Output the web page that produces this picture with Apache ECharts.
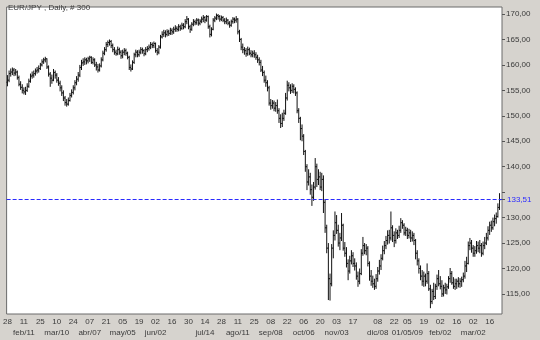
<!DOCTYPE html>
<html>
<head>
<meta charset="utf-8">
<script src="https://cdn.jsdelivr.net/npm/echarts@6/dist/echarts.min.js"></script>
<style>
html,body{margin:0;padding:0;background:#d6d3ce;}
#c{width:540px;height:340px;}
</style>
</head>
<body>
<div id="c"></div>
<script>
// ---- data ----
const startDate = '2008-01-28';
const holidays = ['2008-12-25', '2009-01-01'];
const categoryCount = 301;

const tickDates = ['2008-01-28','2008-02-11','2008-02-25','2008-03-10','2008-03-24','2008-04-07','2008-04-21','2008-05-05','2008-05-19','2008-06-02','2008-06-16','2008-06-30','2008-07-14','2008-07-28','2008-08-11','2008-08-25','2008-09-08','2008-09-22','2008-10-06','2008-10-20','2008-11-03','2008-11-17','2008-12-08','2008-12-22','2009-01-05','2009-01-19','2009-02-02','2009-02-16','2009-03-02','2009-03-16'];
const tickDays = ['28','11','25','10','24','07','21','05','19','02','16','30','14','28','11','25','08','22','06','20','03','17','08','22','05','19','02','16','02','16'];
const tickMonths = ['','feb/11','','mar/10','','abr/07','','may/05','','jun/02','','','jul/14','','ago/11','','sep/08','','oct/06','','nov/03','','dic/08','','01/05/09','','feb/02','','mar/02',''];

const yTicks = [115,120,125,130,135,140,145,150,155,160,165,170];
const yLabels = [115,120,125,130,140,145,150,155,160,165,170];
const lastPrice = 133.51;

const opens = [
156.6,157.0,158.3,158.6,159.0,158.4,158.6,157.5,156.2,155.6,
155.0,154.7,155.0,155.8,156.8,157.8,158.0,158.3,158.8,159.0,
159.3,160.0,160.6,161.0,161.2,159.6,158.2,157.4,157.0,158.5,
158.0,157.0,156.4,155.5,154.5,153.5,152.6,152.3,153.0,154.0,
154.6,155.5,156.5,157.2,158.0,159.5,160.4,160.6,161.0,160.8,
161.2,161.5,160.5,161.0,160.0,159.6,159.0,159.8,161.0,162.3,
163.0,164.0,164.4,164.6,163.8,163.0,162.5,162.2,163.0,162.5,
161.8,162.5,162.8,162.3,161.5,159.5,159.2,160.5,162.0,162.5,
162.0,162.5,163.0,162.8,162.2,163.0,163.2,163.5,164.0,163.8,
164.2,162.8,162.5,163.5,165.5,166.0,166.3,166.0,166.5,166.2,
166.8,166.5,167.0,167.2,167.0,167.5,167.2,167.8,167.5,168.5,
169.0,167.5,167.0,168.0,168.5,168.3,168.8,168.2,168.6,169.0,
169.3,168.8,169.5,167.5,166.0,167.0,168.8,169.2,169.7,169.5,
169.0,169.3,168.8,168.5,168.8,168.2,167.8,168.5,169.0,168.8,
169.0,166.5,165.0,163.5,163.0,162.8,162.2,163.0,162.3,162.0,
162.3,162.0,161.5,161.0,160.5,159.0,158.5,157.0,156.5,155.5,
152.5,152.0,152.5,151.5,152.0,151.0,149.5,148.5,149.5,150.5,
153.5,156.0,155.5,155.0,155.8,155.2,154.5,151.0,149.5,147.5,
146.0,143.0,140.0,137.0,138.0,135.5,134.0,136.0,140.0,137.5,
138.0,136.0,137.5,133.0,128.0,124.0,118.0,117.0,124.0,126.5,
129.0,127.5,125.0,126.0,128.5,124.0,123.0,121.0,119.5,121.5,
122.5,121.0,120.5,118.5,117.5,119.0,123.0,124.5,123.5,124.0,
121.0,118.5,117.5,117.0,116.5,118.0,119.5,120.5,122.0,123.5,
124.5,125.5,126.5,126.0,128.0,126.5,125.5,127.0,126.5,127.5,
129.0,128.5,127.0,127.5,126.5,127.0,126.0,126.5,125.5,123.0,
121.5,120.0,118.5,117.5,118.5,117.5,119.0,116.0,113.5,115.5,
114.5,116.5,118.0,117.0,116.5,115.0,116.2,115.8,116.4,118.0,
119.0,117.2,116.5,117.0,117.5,117.0,117.5,117.8,118.5,120.5,
121.0,124.5,125.0,124.0,123.0,123.5,124.5,124.0,124.5,123.0,
124.5,125.0,126.0,127.5,128.5,128.0,129.2,129.8,130.2,132.0
];
const highs = [
158.0,158.9,159.3,159.5,159.4,159.2,158.9,157.9,156.8,156.2,
155.6,155.7,156.4,157.3,158.3,158.7,158.9,159.3,159.6,159.9,
160.4,161.1,161.4,161.6,161.3,159.9,158.6,158.1,159.2,158.9,
158.4,157.6,156.9,156.0,155.0,153.9,153.3,153.6,154.5,155.2,
156.0,157.0,157.8,158.6,160.0,161.0,161.3,161.5,161.4,161.6,
161.8,161.7,161.5,161.3,160.6,160.2,160.3,161.5,162.8,163.5,
164.5,164.8,165.0,164.9,164.2,163.5,163.0,163.6,163.4,162.9,
163.0,163.3,163.2,162.6,161.8,160.1,160.9,162.4,163.0,162.9,
163.0,163.5,163.4,163.1,163.5,163.7,164.0,164.5,164.4,164.6,
164.4,163.3,163.9,165.9,166.6,166.9,166.8,167.0,166.9,167.3,
167.2,167.5,167.8,167.6,168.0,167.9,168.3,168.2,169.0,169.6,
169.2,167.9,168.4,169.0,168.9,169.2,169.1,169.0,169.5,169.8,
169.6,169.8,169.7,167.9,167.4,169.2,169.6,170.1,170.0,169.8,
169.7,169.6,169.2,169.3,169.0,168.6,168.9,169.4,169.3,169.6,
169.2,166.9,165.3,164.2,163.5,163.3,163.6,163.4,162.9,162.8,
162.9,162.5,162.0,161.5,161.0,159.8,158.9,157.9,157.0,155.9,
153.3,153.1,153.0,152.7,153.2,151.5,150.3,150.6,151.2,154.5,
156.9,156.6,156.2,156.4,156.2,155.6,154.8,151.5,149.8,148.3,
146.4,143.3,140.5,139.5,138.8,136.5,137.0,141.7,140.6,139.5,
139.0,138.8,138.3,133.6,128.6,125.0,119.0,124.8,127.5,131.2,
130.5,128.6,127.0,130.9,128.8,125.2,124.2,121.8,122.5,123.6,
123.2,122.0,121.2,119.4,120.0,123.8,126.2,125.0,124.8,124.4,
121.4,119.7,118.6,118.0,118.9,120.3,121.7,122.8,124.5,125.4,
126.4,127.5,127.6,131.2,128.5,127.3,127.9,127.6,128.4,129.9,
129.5,128.9,128.2,128.0,127.8,127.6,127.3,127.0,125.8,123.6,
122.0,120.6,119.7,119.4,119.0,121.0,119.5,116.8,116.0,117.2,
117.0,118.8,119.7,118.5,117.7,116.8,117.2,117.0,118.5,120.1,
119.5,118.3,118.0,118.0,118.3,118.1,118.4,119.2,121.5,122.3,
125.3,126.0,125.6,124.6,124.4,125.4,125.3,125.6,125.0,125.3,
126.2,127.0,128.3,129.2,129.4,130.0,130.6,131.0,132.8,134.8
];
const lows = [
155.8,156.6,157.7,158.0,157.8,157.9,157.1,155.8,155.1,154.4,
154.2,154.1,154.7,155.5,156.5,157.3,157.5,157.9,158.3,158.5,
159.0,159.7,160.2,160.5,159.2,157.7,155.7,156.3,156.8,157.3,
156.5,155.9,154.8,153.9,152.9,152.0,151.8,152.0,152.8,153.6,
154.2,155.0,156.0,156.7,157.6,159.0,159.8,160.0,160.1,160.3,
160.6,160.2,160.1,159.6,158.9,158.5,158.7,159.5,160.7,161.9,
162.6,163.5,163.8,163.3,162.5,162.0,161.8,161.9,162.0,161.2,
161.3,161.9,161.8,161.1,159.0,158.7,159.0,160.2,161.5,161.5,
161.6,162.1,162.2,161.7,161.9,162.5,162.8,163.1,163.3,163.3,
162.4,161.9,162.1,163.2,165.2,165.5,165.4,165.6,165.7,165.9,
165.9,166.1,166.5,166.5,166.6,166.7,166.9,167.0,167.2,168.0,
167.0,166.3,166.7,167.6,167.8,167.9,167.7,167.8,168.2,168.4,
168.2,168.5,167.1,165.4,165.6,166.8,168.4,168.8,168.9,168.5,
168.6,168.4,168.0,168.0,167.8,167.3,167.5,168.1,168.2,168.3,
166.0,164.5,162.9,162.3,162.0,161.6,161.8,161.9,161.5,161.5,
161.4,161.0,160.4,159.9,158.6,157.8,156.5,155.7,154.8,152.0,
151.2,151.4,150.9,150.8,150.4,148.6,147.6,147.8,149.0,150.2,
153.0,154.8,154.3,154.5,154.4,153.9,150.5,148.6,145.2,145.0,
142.3,139.0,135.4,136.3,134.5,132.3,133.3,135.5,136.0,136.4,
135.4,135.2,130.9,127.0,123.0,113.8,113.7,116.5,122.0,125.5,
126.8,124.3,123.6,125.4,123.5,122.3,120.2,117.7,119.0,120.8,
120.3,119.6,117.8,116.4,116.9,118.7,122.5,122.8,122.6,120.4,
117.6,116.6,116.2,115.8,116.0,117.4,118.8,119.7,121.6,122.8,
123.8,124.7,124.9,125.5,125.2,124.2,124.9,125.8,126.0,127.0,
127.8,126.5,126.4,125.8,125.9,125.2,125.3,124.6,121.8,120.6,
119.0,117.7,116.6,116.4,116.5,117.0,115.6,112.2,113.0,113.8,
114.0,115.8,116.5,115.9,114.4,114.5,115.0,114.9,116.0,117.2,
116.8,116.0,115.8,116.0,116.3,116.2,116.4,117.3,118.0,119.3,
120.8,123.6,123.1,122.3,122.3,122.9,123.2,123.0,122.3,122.6,
123.8,124.6,125.5,126.6,127.2,127.6,128.3,128.8,130.0,131.5
];
const closes = [
157.0,158.3,158.6,159.0,158.4,158.6,157.5,156.2,155.6,155.0,
154.7,155.0,155.8,156.8,157.8,158.0,158.3,158.8,159.0,159.3,
160.0,160.6,161.0,161.2,159.6,158.2,157.4,157.0,158.5,158.0,
157.0,156.4,155.5,154.5,153.5,152.6,152.3,153.0,154.0,154.6,
155.5,156.5,157.2,158.0,159.5,160.4,160.6,161.0,160.8,161.2,
161.5,160.5,161.0,160.0,159.6,159.0,159.8,161.0,162.3,163.0,
164.0,164.4,164.6,163.8,163.0,162.5,162.2,163.0,162.5,161.8,
162.5,162.8,162.3,161.5,159.5,159.2,160.5,162.0,162.5,162.0,
162.5,163.0,162.8,162.2,163.0,163.2,163.5,164.0,163.8,164.2,
162.8,162.5,163.5,165.5,166.0,166.3,166.0,166.5,166.2,166.8,
166.5,167.0,167.2,167.0,167.5,167.2,167.8,167.5,168.5,169.0,
167.5,167.0,168.0,168.5,168.3,168.8,168.2,168.6,169.0,169.3,
168.8,169.5,167.5,166.0,167.0,168.8,169.2,169.7,169.5,169.0,
169.3,168.8,168.5,168.8,168.2,167.8,168.5,169.0,168.8,169.0,
166.5,165.0,163.5,163.0,162.8,162.2,163.0,162.3,162.0,162.3,
162.0,161.5,161.0,160.5,159.0,158.5,157.0,156.5,155.5,152.5,
152.0,152.5,151.5,152.0,151.0,149.5,148.5,149.5,150.5,153.5,
156.0,155.5,155.0,155.8,155.2,154.5,151.0,149.5,147.5,146.0,
143.0,140.0,137.0,138.0,135.5,134.0,136.0,140.0,137.5,138.0,
136.0,137.5,133.0,128.0,124.0,118.0,117.0,124.0,126.5,129.0,
127.5,125.0,126.0,128.5,124.0,123.0,121.0,119.5,121.5,122.5,
121.0,120.5,118.5,117.5,119.0,123.0,124.5,123.5,124.0,121.0,
118.5,117.5,117.0,116.5,118.0,119.5,120.5,122.0,123.5,124.5,
125.5,126.5,126.0,128.0,126.5,125.5,127.0,126.5,127.5,129.0,
128.5,127.0,127.5,126.5,127.0,126.0,126.5,125.5,123.0,121.5,
120.0,118.5,117.5,118.5,117.5,119.0,116.0,113.5,115.5,114.5,
116.5,118.0,117.0,116.5,115.0,116.2,115.8,116.4,118.0,119.0,
117.2,116.5,117.0,117.5,117.0,117.5,117.8,118.5,120.5,121.0,
124.5,125.0,124.0,123.0,123.5,124.5,124.0,124.5,123.0,124.5,
125.0,126.0,127.5,128.5,128.0,129.2,129.8,130.2,132.0,133.51
];

// ---- build categories (business days) ----
function fmt(d){return d.toISOString().slice(0,10);}
const dates = [];
{
  const d = new Date(startDate + 'T00:00:00Z');
  while (dates.length < categoryCount) {
    const wd = d.getUTCDay();
    const s = fmt(d);
    if (wd !== 0 && wd !== 6 && holidays.indexOf(s) < 0) dates.push(s);
    d.setUTCDate(d.getUTCDate() + 1);
  }
}
const dayMap = {};
const monthMap = {};
tickDates.forEach((t, k) => {
  dayMap[t] = tickDays[k];
  if (tickMonths[k]) monthMap[t] = tickMonths[k];
});

const bars = closes.map((c, i) => [i, opens[i], highs[i], lows[i], c]);

const FONT = 'Liberation Sans';
const labelBase = {fontSize: 8, color: '#3a3a3a', fontFamily: FONT, showMinLabel: true, showMaxLabel: true, hideOverlap: false};
const chart = echarts.init(document.getElementById('c'), null, {renderer: 'canvas'});
chart.setOption({
  animation: false,
  backgroundColor: '#d6d3ce',
  textStyle: {fontFamily: FONT},
  title: {
    text: 'EUR/JPY , Daily, # 300',
    left: 3, top: -1,
    textStyle: {fontSize: 8, fontWeight: 'normal', color: '#3a3a3a', fontFamily: FONT}
  },
  grid: {
    left: 5, top: 7, right: 38, bottom: 26,
    show: true, backgroundColor: '#ffffff', borderColor: '#6a6a6a', borderWidth: 1
  },
  xAxis: [{
    type: 'category',
    data: dates,
    boundaryGap: true,
    position: 'bottom',
    axisLine: {show: false},
    axisTick: {show: false},
    splitLine: {show: false},
    axisLabel: Object.assign({}, labelBase, {
      interval: (idx, val) => dayMap[val] !== undefined,
      formatter: (val) => dayMap[val] || '',
      margin: 4
    })
  }, {
    type: 'category',
    data: dates,
    boundaryGap: true,
    position: 'bottom',
    offset: 10.5,
    axisLine: {show: false},
    axisTick: {show: false},
    splitLine: {show: false},
    axisLabel: Object.assign({}, labelBase, {
      interval: (idx, val) => monthMap[val] !== undefined,
      formatter: (val) => monthMap[val] || '',
      margin: 4
    })
  }],
  yAxis: {
    type: 'value',
    position: 'right',
    min: 111.06, max: 171.38,
    axisLine: {show: false},
    splitLine: {show: false},
    axisTick: {show: true, length: 3, customValues: yTicks.concat([lastPrice]), lineStyle: {color: '#555'}},
    axisLabel: {
      customValues: yLabels,
      formatter: (v) => v.toFixed(2).replace('.', ','),
      fontSize: 8, color: '#3a3a3a', margin: 4, fontFamily: FONT
    }
  },
  series: [{
    type: 'custom',
    xAxisIndex: 0,
    data: bars,
    encode: {x: 0, y: [1, 2, 3, 4]},
    clip: true,
    renderItem: function (params, api) {
      const i = api.value(0);
      const pO = api.coord([i, api.value(1)]);
      const pH = api.coord([i, api.value(2)]);
      const pL = api.coord([i, api.value(3)]);
      const pC = api.coord([i, api.value(4)]);
      const x = pO[0];
      const st = {stroke: '#111', lineWidth: 1};
      return {
        type: 'group',
        children: [
          {type: 'line', shape: {x1: x, y1: pH[1], x2: x, y2: pL[1]}, style: st},
          {type: 'line', shape: {x1: x - 1, y1: pO[1], x2: x, y2: pO[1]}, style: st},
          {type: 'line', shape: {x1: x, y1: pC[1], x2: x + 1, y2: pC[1]}, style: st}
        ]
      };
    },
    markLine: {
      silent: true,
      symbol: 'none',
      data: [{yAxis: lastPrice}],
      lineStyle: {type: [4, 2], color: '#2a2aff', width: 1},
      label: {show: true, position: 'end', distance: 5, formatter: '133,51', color: '#2a2aff', fontSize: 8, fontFamily: FONT}
    }
  }]
});
</script>
</body>
</html>
